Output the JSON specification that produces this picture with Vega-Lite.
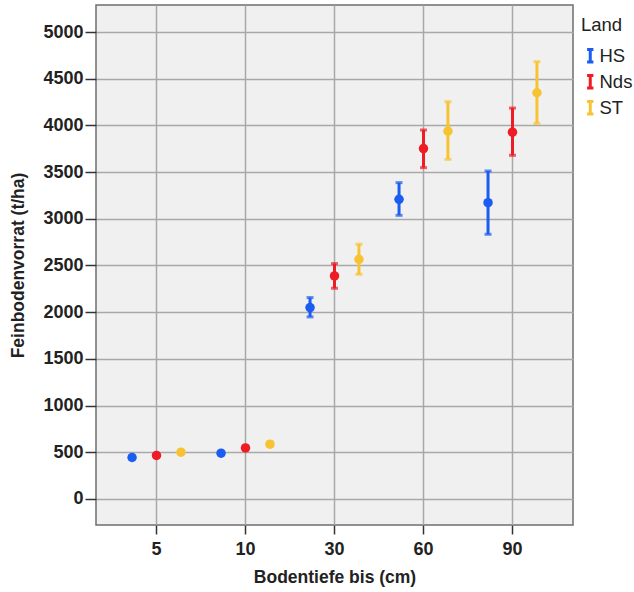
{
  "$schema": "https://vega.github.io/schema/vega-lite/v6.json",
  "width": 477,
  "height": 520,
  "autosize": {"type": "none"},
  "padding": {"left": 96, "top": 5, "right": 61, "bottom": 67},
  "background": "white",
  "config": {
    "font": "Liberation Sans",
    "view": {"fill": "#f0f0f0", "stroke": "#6e6e6e", "strokeWidth": 1.5},
    "axis": {"tickColor": "#333333", "domain": false, "labelColor": "#222222", "titleColor": "#222222", "gridColor": "#a8a8a8", "gridWidth": 1.5, "tickWidth": 1.5}
  },
  "data": {"values": [
    {"tiefe": "5", "land": "HS", "mean": 443, "lo": 428, "hi": 458},
    {"tiefe": "5", "land": "Nds", "mean": 465, "lo": 450, "hi": 480},
    {"tiefe": "5", "land": "ST", "mean": 500, "lo": 485, "hi": 515},
    {"tiefe": "10", "land": "HS", "mean": 489, "lo": 474, "hi": 504},
    {"tiefe": "10", "land": "Nds", "mean": 546, "lo": 528, "hi": 564},
    {"tiefe": "10", "land": "ST", "mean": 586, "lo": 562, "hi": 610},
    {"tiefe": "30", "land": "HS", "mean": 2049, "lo": 1949, "hi": 2156},
    {"tiefe": "30", "land": "Nds", "mean": 2388, "lo": 2256, "hi": 2520},
    {"tiefe": "30", "land": "ST", "mean": 2566, "lo": 2406, "hi": 2727},
    {"tiefe": "60", "land": "HS", "mean": 3209, "lo": 3037, "hi": 3387},
    {"tiefe": "60", "land": "Nds", "mean": 3752, "lo": 3548, "hi": 3951},
    {"tiefe": "60", "land": "ST", "mean": 3940, "lo": 3637, "hi": 4254},
    {"tiefe": "90", "land": "HS", "mean": 3173, "lo": 2834, "hi": 3512},
    {"tiefe": "90", "land": "Nds", "mean": 3928, "lo": 3680, "hi": 4186},
    {"tiefe": "90", "land": "ST", "mean": 4350, "lo": 4022, "hi": 4683}
  ]},
  "encoding": {
    "x": {
      "field": "tiefe", "type": "nominal", "sort": ["5", "10", "30", "60", "90"],
      "scale": {"paddingInner": 0, "paddingOuter": 0.18},
      "axis": {"title": "Bodentiefe bis (cm)", "labelAngle": 0, "bandPosition": 0.5, "grid": true, "tickSize": 9, "labelPadding": 6, "labelFontSize": 18, "labelFontWeight": "bold", "titleFontSize": 17.5, "titleFontWeight": "bold", "titlePadding": 10}
    },
    "xOffset": {"field": "land", "type": "nominal", "sort": ["HS", "Nds", "ST"], "scale": {"paddingInner": 0, "paddingOuter": 0.32}},
    "color": {
      "field": "land", "type": "nominal", "title": "Land",
      "scale": {"domain": ["HS", "Nds", "ST"], "range": ["#1a5df0", "#ee1c25", "#f8c332"]},
      "legend": {
        "orient": "none", "legendX": 485, "legendY": 11,
        "titleFontSize": 18.5, "titleFontWeight": "normal", "titleColor": "#222222", "titlePadding": 12,
        "labelFontSize": 18.5, "labelColor": "#222222", "labelOffset": 0,
        "symbolType": "M-0.5,-1H0.5M0,-1V1M-0.5,1H0.5", "symbolSize": 160, "symbolStrokeWidth": 3,
        "rowPadding": 0,
        "encode": {"symbols": {"update": {"stroke": {"scale": "color", "field": "value"}, "fill": {"value": "transparent"}}}}
      }
    }
  },
  "layer": [
    {
      "mark": {"type": "rule", "strokeWidth": 3},
      "encoding": {
        "y": {"field": "lo", "type": "quantitative", "scale": {"domain": [-280, 5290], "nice": false, "zero": false},
          "axis": {"title": "Feinbodenvorrat (t/ha)", "format": "d", "values": [0, 500, 1000, 1500, 2000, 2500, 3000, 3500, 4000, 4500, 5000], "grid": true, "tickSize": 11, "labelPadding": 2, "labelFontSize": 18, "labelFontWeight": "bold", "titleFontSize": 17.5, "titleFontWeight": "bold", "titlePadding": 15}},
        "y2": {"field": "hi"}
      }
    },
    {
      "mark": {"type": "tick", "thickness": 3, "size": 7},
      "encoding": {"y": {"field": "lo", "type": "quantitative"}}
    },
    {
      "mark": {"type": "tick", "thickness": 3, "size": 7},
      "encoding": {"y": {"field": "hi", "type": "quantitative"}}
    },
    {
      "mark": {"type": "circle", "size": 90, "opacity": 1},
      "encoding": {"y": {"field": "mean", "type": "quantitative"}}
    }
  ]
}
